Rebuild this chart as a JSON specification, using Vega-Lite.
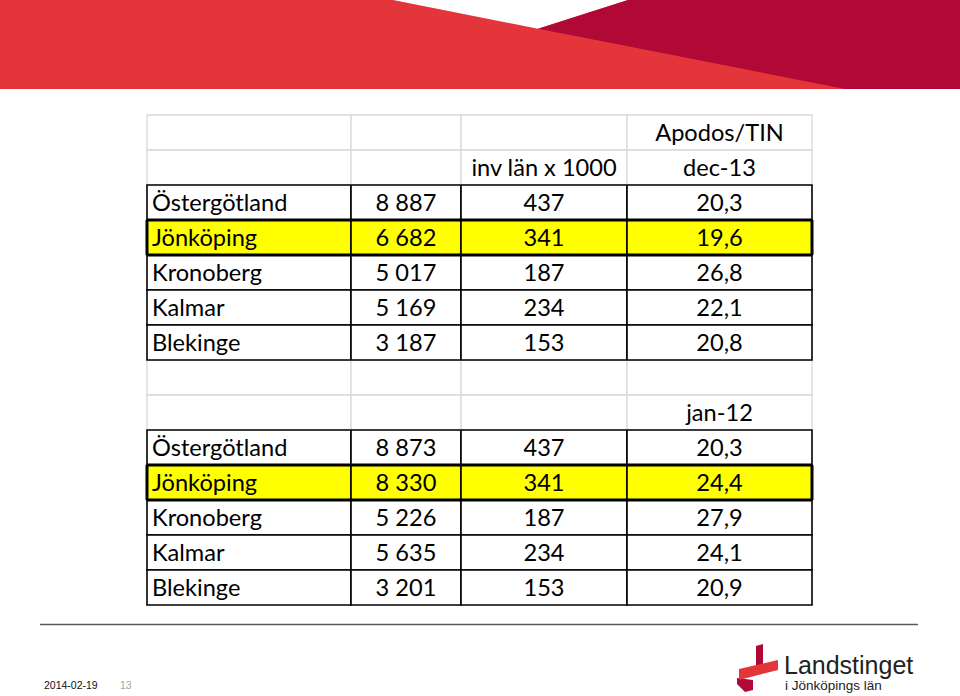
{
  "$schema": "https://vega.github.io/schema/vega-lite/v6.json",
  "padding": 0,
  "background": "white",
  "spacing": 0,
  "config": {
    "view": {"stroke": null},
    "locale": {"number": {"decimal": ",", "thousands": " ", "grouping": [3], "currency": ["", " kr"]}}
  },
  "datasets": {
    "table": [
      {"r": 1, "h4": "Apodos/TIN"},
      {"r": 2, "h3": "inv län x 1000", "h4": "dec-13"},
      {"r": 3, "region": "Östergötland", "n": 8887, "inv": 437, "rate": 20.3},
      {"r": 4, "region": "Jönköping", "n": 6682, "inv": 341, "rate": 19.6},
      {"r": 5, "region": "Kronoberg", "n": 5017, "inv": 187, "rate": 26.8},
      {"r": 6, "region": "Kalmar", "n": 5169, "inv": 234, "rate": 22.1},
      {"r": 7, "region": "Blekinge", "n": 3187, "inv": 153, "rate": 20.8},
      {"r": 8},
      {"r": 9, "h4": "jan-12"},
      {"r": 10, "region": "Östergötland", "n": 8873, "inv": 437, "rate": 20.3},
      {"r": 11, "region": "Jönköping", "n": 8330, "inv": 341, "rate": 24.4},
      {"r": 12, "region": "Kronoberg", "n": 5226, "inv": 187, "rate": 27.9},
      {"r": 13, "region": "Kalmar", "n": 5635, "inv": 234, "rate": 24.1},
      {"r": 14, "region": "Blekinge", "n": 3201, "inv": 153, "rate": 20.9}
    ],
    "banner": [
      {"part": "red", "x": 0, "y": 89, "y2": 0},
      {"part": "red", "x": 960, "y": 89, "y2": 0},
      {"part": "white", "x": 393, "y": 0, "y2": 0},
      {"part": "white", "x": 538, "y": 28.7, "y2": 0},
      {"part": "white", "x": 628, "y": 0, "y2": 0},
      {"part": "dark", "x": 538, "y": 28.7, "y2": 28.7},
      {"part": "dark", "x": 628, "y": 46.3, "y2": 0},
      {"part": "dark", "x": 845, "y": 89, "y2": 0},
      {"part": "dark", "x": 960, "y": 89, "y2": 0}
    ],
    "footline": [{"x": 40, "x2": 918, "y": 622.5}],
    "footer": [
      {"item": "date", "label": "2014-02-19", "x": 44, "y": 687},
      {"item": "page", "label": "13", "x": 120, "y": 687},
      {"item": "name", "label": "Landstinget", "x": 784, "y": 672},
      {"item": "sub", "label": "i Jönköpings län", "x": 785, "y": 688}
    ],
    "logo": [
      {"part": "stem", "x": 756, "y": 666, "y2": 644},
      {"part": "stem", "x": 763, "y": 664, "y2": 642},
      {"part": "curl", "x": 737, "y": 682, "y2": 676},
      {"part": "curl", "x": 745, "y": 690, "y2": 677},
      {"part": "curl", "x": 753, "y": 688, "y2": 678},
      {"part": "ribbon", "x": 739, "y": 678, "y2": 667},
      {"part": "ribbon", "x": 778, "y": 668, "y2": 658}
    ]
  },
  "vconcat": [
    {
      "width": 960,
      "height": 114,
      "data": {"name": "banner"},
      "encoding": {
        "x": {"field": "x", "type": "quantitative", "scale": {"domain": [0, 960]}, "axis": null},
        "y": {"field": "y", "type": "quantitative", "scale": {"domain": [0, 114], "reverse": true}, "axis": null, "stack": null},
        "y2": {"field": "y2"}
      },
      "layer": [
        {"transform": [{"filter": "datum.part === 'red'"}], "mark": {"type": "area", "color": "#e4363a"}},
        {"transform": [{"filter": "datum.part === 'white'"}], "mark": {"type": "area", "color": "#ffffff"}},
        {"transform": [{"filter": "datum.part === 'dark'"}], "mark": {"type": "area", "color": "#b00935"}}
      ]
    },
    {
      "spacing": 0,
      "bounds": "flush",
      "hconcat": [
        {
          "width": 147,
          "height": 490,
          "data": {"values": [{"blank": ""}]},
          "mark": {"type": "text"},
          "encoding": {"text": {"field": "blank"}}
        },
        {
          "width": 204,
          "height": 490,
          "data": {"name": "table"},
          "encoding": {
            "y": {"field": "r", "type": "ordinal", "axis": null, "scale": {"domain": [1,2,3,4,5,6,7,8,9,10,11,12,13,14], "paddingInner": 0, "paddingOuter": 0}}
          },
          "layer": [
            {"transform": [{"filter": "!isValid(datum.region)"}], "mark": {"type": "rect", "fill": "white", "stroke": "#d9d9d9", "strokeWidth": 1.3}, "encoding": {"x": {"value": 0}, "x2": {"value": "width"}}},
            {"transform": [{"filter": "isValid(datum.region)"}], "mark": {"type": "rect", "stroke": "black", "strokeWidth": 1.6}, "encoding": {"x": {"value": 0}, "x2": {"value": "width"}, "fill": {"condition": {"test": "datum.region === 'Jönköping'", "value": "#ffff00"}, "value": "white"}}},
            {"transform": [{"filter": "datum.region === 'Jönköping'"}], "mark": {"type": "rule", "color": "black", "strokeWidth": 3}, "encoding": {"y": {"field": "r", "type": "ordinal", "bandPosition": 0}, "x": {"value": 0}, "x2": {"value": "width"}}},
            {"transform": [{"filter": "datum.region === 'Jönköping'"}], "mark": {"type": "rule", "color": "black", "strokeWidth": 3}, "encoding": {"y": {"field": "r", "type": "ordinal", "bandPosition": 1}, "x": {"value": 0}, "x2": {"value": "width"}}},
            {"transform": [{"filter": "datum.region === 'Jönköping'"}], "mark": {"type": "rect", "color": "black", "xOffset": -1.5, "x2Offset": 1.5}, "encoding": {"x": {"value": 0}, "x2": {"value": 0}}},
            {"transform": [{"filter": "isValid(datum.region)"}], "mark": {"type": "text", "align": "left", "baseline": "alphabetic", "dy": 8.5, "font": "Lato", "fontSize": 23.6, "color": "black", "x": 5}, "encoding": {"text": {"field": "region"}}}
          ]
        },
        {
          "width": 110,
          "height": 490,
          "data": {"name": "table"},
          "encoding": {
            "y": {"field": "r", "type": "ordinal", "axis": null, "scale": {"domain": [1,2,3,4,5,6,7,8,9,10,11,12,13,14], "paddingInner": 0, "paddingOuter": 0}}
          },
          "layer": [
            {"transform": [{"filter": "!isValid(datum.region)"}], "mark": {"type": "rect", "fill": "white", "stroke": "#d9d9d9", "strokeWidth": 1.3}, "encoding": {"x": {"value": 0}, "x2": {"value": "width"}}},
            {"transform": [{"filter": "isValid(datum.region)"}], "mark": {"type": "rect", "stroke": "black", "strokeWidth": 1.6}, "encoding": {"x": {"value": 0}, "x2": {"value": "width"}, "fill": {"condition": {"test": "datum.region === 'Jönköping'", "value": "#ffff00"}, "value": "white"}}},
            {"transform": [{"filter": "datum.region === 'Jönköping'"}], "mark": {"type": "rule", "color": "black", "strokeWidth": 3}, "encoding": {"y": {"field": "r", "type": "ordinal", "bandPosition": 0}, "x": {"value": 0}, "x2": {"value": "width"}}},
            {"transform": [{"filter": "datum.region === 'Jönköping'"}], "mark": {"type": "rule", "color": "black", "strokeWidth": 3}, "encoding": {"y": {"field": "r", "type": "ordinal", "bandPosition": 1}, "x": {"value": 0}, "x2": {"value": "width"}}},
            {"transform": [{"filter": "isValid(datum.n)"}], "mark": {"type": "text", "align": "center", "baseline": "alphabetic", "dy": 8.5, "font": "Lato", "fontSize": 23.6, "color": "black"}, "encoding": {"x": {"datum": 0.5, "type": "quantitative", "scale": {"domain": [0, 1]}, "axis": null}, "text": {"field": "n", "type": "quantitative", "format": ",d"}}}
          ]
        },
        {
          "width": 166,
          "height": 490,
          "data": {"name": "table"},
          "encoding": {
            "y": {"field": "r", "type": "ordinal", "axis": null, "scale": {"domain": [1,2,3,4,5,6,7,8,9,10,11,12,13,14], "paddingInner": 0, "paddingOuter": 0}}
          },
          "layer": [
            {"transform": [{"filter": "!isValid(datum.region)"}], "mark": {"type": "rect", "fill": "white", "stroke": "#d9d9d9", "strokeWidth": 1.3}, "encoding": {"x": {"value": 0}, "x2": {"value": "width"}}},
            {"transform": [{"filter": "isValid(datum.region)"}], "mark": {"type": "rect", "stroke": "black", "strokeWidth": 1.6}, "encoding": {"x": {"value": 0}, "x2": {"value": "width"}, "fill": {"condition": {"test": "datum.region === 'Jönköping'", "value": "#ffff00"}, "value": "white"}}},
            {"transform": [{"filter": "datum.region === 'Jönköping'"}], "mark": {"type": "rule", "color": "black", "strokeWidth": 3}, "encoding": {"y": {"field": "r", "type": "ordinal", "bandPosition": 0}, "x": {"value": 0}, "x2": {"value": "width"}}},
            {"transform": [{"filter": "datum.region === 'Jönköping'"}], "mark": {"type": "rule", "color": "black", "strokeWidth": 3}, "encoding": {"y": {"field": "r", "type": "ordinal", "bandPosition": 1}, "x": {"value": 0}, "x2": {"value": "width"}}},
            {"transform": [{"filter": "isValid(datum.h3)"}], "mark": {"type": "text", "align": "center", "baseline": "alphabetic", "dy": 8.5, "font": "Lato", "fontSize": 23.6, "color": "black"}, "encoding": {"x": {"datum": 0.5, "type": "quantitative", "scale": {"domain": [0, 1]}, "axis": null}, "text": {"field": "h3"}}},
            {"transform": [{"filter": "isValid(datum.inv)"}], "mark": {"type": "text", "align": "center", "baseline": "alphabetic", "dy": 8.5, "font": "Lato", "fontSize": 23.6, "color": "black"}, "encoding": {"x": {"datum": 0.5, "type": "quantitative", "scale": {"domain": [0, 1]}, "axis": null}, "text": {"field": "inv", "type": "quantitative", "format": "d"}}}
          ]
        },
        {
          "width": 185,
          "height": 490,
          "data": {"name": "table"},
          "encoding": {
            "y": {"field": "r", "type": "ordinal", "axis": null, "scale": {"domain": [1,2,3,4,5,6,7,8,9,10,11,12,13,14], "paddingInner": 0, "paddingOuter": 0}}
          },
          "layer": [
            {"transform": [{"filter": "!isValid(datum.region)"}], "mark": {"type": "rect", "fill": "white", "stroke": "#d9d9d9", "strokeWidth": 1.3}, "encoding": {"x": {"value": 0}, "x2": {"value": "width"}}},
            {"transform": [{"filter": "isValid(datum.region)"}], "mark": {"type": "rect", "stroke": "black", "strokeWidth": 1.6}, "encoding": {"x": {"value": 0}, "x2": {"value": "width"}, "fill": {"condition": {"test": "datum.region === 'Jönköping'", "value": "#ffff00"}, "value": "white"}}},
            {"transform": [{"filter": "datum.region === 'Jönköping'"}], "mark": {"type": "rule", "color": "black", "strokeWidth": 3}, "encoding": {"y": {"field": "r", "type": "ordinal", "bandPosition": 0}, "x": {"value": 0}, "x2": {"value": "width"}}},
            {"transform": [{"filter": "datum.region === 'Jönköping'"}], "mark": {"type": "rule", "color": "black", "strokeWidth": 3}, "encoding": {"y": {"field": "r", "type": "ordinal", "bandPosition": 1}, "x": {"value": 0}, "x2": {"value": "width"}}},
            {"transform": [{"filter": "datum.region === 'Jönköping'"}], "mark": {"type": "rect", "color": "black", "xOffset": -1.5, "x2Offset": 1.5}, "encoding": {"x": {"value": "width"}, "x2": {"value": "width"}}},
            {"transform": [{"filter": "isValid(datum.h4)"}], "mark": {"type": "text", "align": "center", "baseline": "alphabetic", "dy": 8.5, "font": "Lato", "fontSize": 23.6, "color": "black"}, "encoding": {"x": {"datum": 0.5, "type": "quantitative", "scale": {"domain": [0, 1]}, "axis": null}, "text": {"field": "h4"}}},
            {"transform": [{"filter": "isValid(datum.rate)"}], "mark": {"type": "text", "align": "center", "baseline": "alphabetic", "dy": 8.5, "font": "Lato", "fontSize": 23.6, "color": "black"}, "encoding": {"x": {"datum": 0.5, "type": "quantitative", "scale": {"domain": [0, 1]}, "axis": null}, "text": {"field": "rate", "type": "quantitative", "format": ".1f"}}}
          ]
        }
      ]
    },
    {
      "width": 960,
      "height": 92,
      "encoding": {
        "x": {"field": "x", "type": "quantitative", "scale": {"domain": [0, 960]}, "axis": null},
        "y": {"field": "y", "type": "quantitative", "scale": {"domain": [604, 696], "reverse": true}, "axis": null, "stack": null}
      },
      "layer": [
        {"data": {"name": "footline"}, "mark": {"type": "rule", "color": "#595959", "strokeWidth": 1.5}, "encoding": {"x2": {"field": "x2"}}},
        {"data": {"name": "logo"}, "transform": [{"filter": "datum.part === 'stem'"}], "mark": {"type": "area", "color": "#b00935"}, "encoding": {"y2": {"field": "y2"}}},
        {"data": {"name": "logo"}, "transform": [{"filter": "datum.part === 'curl'"}], "mark": {"type": "area", "color": "#b00935"}, "encoding": {"y2": {"field": "y2"}}},
        {"data": {"name": "logo"}, "transform": [{"filter": "datum.part === 'ribbon'"}], "mark": {"type": "area", "color": "#e4363a"}, "encoding": {"y2": {"field": "y2"}}},
        {"data": {"name": "footer"}, "transform": [{"filter": "datum.item === 'date'"}], "mark": {"type": "text", "align": "left", "baseline": "alphabetic", "font": "Liberation Sans", "fontSize": 10.5, "color": "#111111"}, "encoding": {"text": {"field": "label"}}},
        {"data": {"name": "footer"}, "transform": [{"filter": "datum.item === 'page'"}], "mark": {"type": "text", "align": "left", "baseline": "alphabetic", "font": "Liberation Sans", "fontSize": 10.5, "color": "#a6a6a6"}, "encoding": {"text": {"field": "label"}}},
        {"data": {"name": "footer"}, "transform": [{"filter": "datum.item === 'name'"}], "mark": {"type": "text", "align": "left", "baseline": "alphabetic", "font": "Liberation Sans", "fontSize": 25, "color": "#222222"}, "encoding": {"text": {"field": "label"}}},
        {"data": {"name": "footer"}, "transform": [{"filter": "datum.item === 'sub'"}], "mark": {"type": "text", "align": "left", "baseline": "alphabetic", "font": "Liberation Sans", "fontSize": 13.5, "color": "#222222"}, "encoding": {"text": {"field": "label"}}}
      ]
    }
  ]
}
